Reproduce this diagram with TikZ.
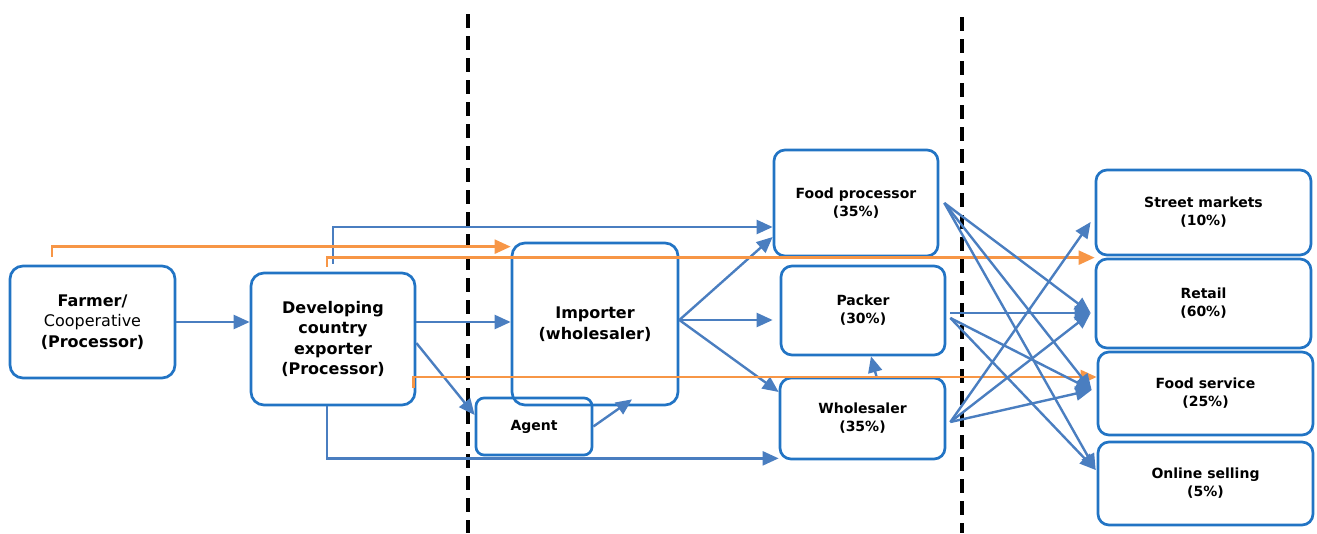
\documentclass[tikz,border=0pt]{standalone}
\usepackage{fontspec}
\setmainfont{DejaVu Sans}
\usetikzlibrary{arrows.meta}
\definecolor{boxblue}{RGB}{34,116,196}
\definecolor{flowblue}{RGB}{74,126,192}
\definecolor{floworange}{RGB}{247,150,70}

\begin{document}
\begin{tikzpicture}[x=1pt, y=-1pt, >={Triangle[length=16pt, width=14pt]}, line width=2.4pt,
  bigbox/.style={draw=boxblue, line width=2.7pt, rounded corners=13pt, align=center, inner sep=0pt, font=\fontsize{16}{20.5}\selectfont},
  smallbox/.style={draw=boxblue, line width=2.7pt, rounded corners=11pt, align=center, inner sep=0pt, font=\bfseries\fontsize{14}{18}\selectfont},
  flow/.style={->, color=flowblue},
  direct/.style={->, color=floworange},
  divider/.style={draw=black, line width=3.5pt, dash pattern=on 14pt off 8pt}]
  \useasboundingbox (0,0) rectangle (1317,533);

  \draw[divider] (468,14) -- (468,533);
  \draw[divider] (962,17) -- (962,533);

  \node[bigbox, minimum width=165pt, minimum height=112pt] (Farm) at (92.5, 322) {\textbf{Farmer/}\\Cooperative\\\textbf{(Processor)}};
  \node[bigbox, minimum width=164pt, minimum height=132pt, font=\bfseries\fontsize{16}{20.5}\selectfont] (Exp) at (333, 339) {Developing\\country\\exporter\\(Processor)};
  \node[bigbox, minimum width=166pt, minimum height=162pt, font=\bfseries\fontsize{16}{20.5}\selectfont] (Imp) at (595, 324) {Importer\\(wholesaler)};
  \node[smallbox, minimum width=116pt, minimum height=57pt, rounded corners=8pt] (Agt) at (534, 426.5) {\raisebox{-3pt}{Agent}};

  \node[smallbox, minimum width=164pt, minimum height=106pt] (FP) at (856, 203) {Food processor\\(35\%)};
  \node[smallbox, minimum width=164pt, minimum height=89pt] (Pk) at (863, 310.5) {Packer\\(30\%)};
  \node[smallbox, minimum width=165pt, minimum height=81pt] (WS) at (862.5, 418.5) {Wholesaler\\(35\%)};

  \node[smallbox, minimum width=215pt, minimum height=85pt] (SM) at (1203.5, 212.5) {Street markets\\(10\%)};
  \node[smallbox, minimum width=215pt, minimum height=89pt] (Ret) at (1203.5, 303.5) {Retail\\(60\%)};
  \node[smallbox, minimum width=215pt, minimum height=83pt] (FS) at (1205.5, 393.5) {Food service\\(25\%)};
  \node[smallbox, minimum width=215pt, minimum height=83pt] (OS) at (1205.5, 483.5) {Online selling\\(5\%)};

  \coordinate (ImpOut) at ([yshift=4pt]Imp.east);
  \coordinate (SMIn) at ([shift={(-4pt,-9.5pt)}]SM.west);
  \coordinate (RetIn) at ([shift={(-4pt,-9.5pt)}]Ret.west);
  \coordinate (FSIn) at ([shift={(-5pt,3.5pt)}]FS.west);
  \coordinate (OSIn) at ([shift={(-1pt,13.5pt)}]OS.west);

  % main chain
  \path[flow] (Farm.east) edge (Farm.east -| Exp.west);
  \path[flow] (Exp.east |- Farm.east) edge (Imp.west |- Farm.east);
  \path[flow] ([yshift=-4pt]Exp.east) edge ([yshift=11.5pt]Agt.west);
  \path[flow] (Agt.east) edge ([shift={(37pt,7pt)}]Imp.south);
  \path[flow] (ImpOut) edge ([yshift=-34pt]FP.west);
  \path[flow] (ImpOut) edge[shorten >=7pt] (Pk.west |- ImpOut);
  \path[flow] (ImpOut) edge ([yshift=26.5pt]WS.west);
  \path[flow] ([xshift=14pt]WS.north) edge ([xshift=8pt]Pk.south);
  \draw[flow] ([yshift=8pt]Exp.north) |- ([yshift=-24pt]FP.west);
  \draw[flow] ([xshift=-6pt]Exp.south) |- ([yshift=2pt]WS.south west);

  % direct sales
  \draw[direct] ([shift={(-40.5pt,8pt)}]Farm.north) |- ([yshift=-5pt]Imp.north west);
  \draw[direct] ([shift={(-6pt,5pt)}]Exp.north) |- (Ret.north west);
  \draw[direct] ([shift={(-3pt,18pt)}]Exp.south east) |- ([yshift=16.5pt]FS.west);

  % to the market
  \path[flow] ([xshift=5pt]FP.east) edge (RetIn);
  \path[flow] ([xshift=5pt]FP.east) edge (FSIn);
  \path[flow] ([xshift=5pt]FP.east) edge (OSIn);
  \path[flow] ([shift={(4pt,-2.5pt)}]Pk.east) edge (RetIn);
  \path[flow] ([shift={(4pt,-7.5pt)}]Pk.east) edge (FSIn);
  \path[flow] ([shift={(4pt,-7.5pt)}]Pk.east) edge (OSIn);
  \path[flow] ([shift={(4pt,-3.5pt)}]WS.east) edge (SMIn);
  \path[flow] ([shift={(4pt,-3.5pt)}]WS.east) edge (RetIn);
  \path[flow] ([shift={(4pt,-3.5pt)}]WS.east) edge (FSIn);
\end{tikzpicture}
\end{document}
